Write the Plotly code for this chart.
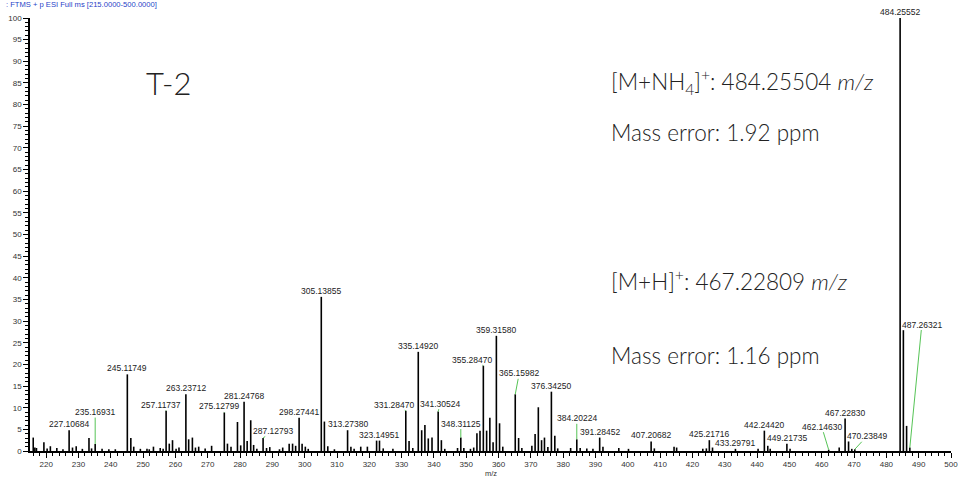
import plotly.graph_objects as go

# ---- spectrum data: centroid peaks (m/z, relative abundance %) ----
peak_mz = [
    216.0, 216.5, 217.0, 219.3, 220.3, 221.3, 223.3, 225.2, 227.10684, 228.15,
    229.3, 231.2, 233.25, 234.05, 235.16931, 237.3, 239.4, 241.4, 245.11749, 246.2,
    247.1, 249.15, 251.2, 251.9, 253.2, 255.3, 256.2, 257.11737, 258.1, 259.1,
    260.2, 261.1, 263.23712, 264.1, 265.25, 266.2, 267.2, 269.2, 271.2, 275.12799,
    276.1, 277.2, 279.2, 280.2, 281.24768, 282.2, 283.3, 284.2, 285.2, 287.12793,
    288.2, 289.2, 292.2, 293.2, 295.2, 296.25, 297.2, 298.27441, 299.2, 300.2,
    301.1, 305.13855, 306.1, 307.15, 309.2, 313.27380, 314.3, 315.3, 317.35, 319.4,
    322.25, 323.14951, 324.3, 327.3, 331.28470, 332.3, 333.45, 335.14920, 336.2, 337.2,
    338.25, 339.4, 341.30524, 342.3, 343.35, 347.3, 348.31125, 349.25, 351.3, 352.3,
    353.3, 354.25, 355.28470, 356.3, 357.3, 358.3, 359.31580, 360.3, 361.3, 365.15982,
    366.2, 367.2, 370.3, 371.3, 372.3, 373.3, 374.2, 375.25, 376.34250, 377.4,
    378.3, 382.3, 384.20224, 385.25, 387.3, 389.2, 391.28452, 392.3, 397.2, 400.2,
    407.20682, 408.2, 414.3, 415.1, 423.2, 424.3, 425.21716, 426.2, 433.29791, 440.3,
    442.24420, 443.3, 444.05, 449.21735, 450.2, 462.14630, 465.4, 467.22830, 468.3, 469.3,
    470.23849, 484.25552, 485.26, 486.26, 487.26321,
]
peak_int = [
    3.1, 0.8, 0.7, 2.0, 0.6, 1.1, 0.7, 0.4, 4.8, 0.8,
    1.1, 0.5, 3.0, 0.6, 1.6, 0.5, 0.4, 0.4, 17.7, 3.0,
    1.0, 0.5, 0.5, 0.4, 1.0, 0.7, 0.5, 9.3, 1.7, 2.5,
    0.5, 0.8, 13.1, 2.7, 3.1, 0.8, 1.0, 0.6, 1.2, 8.9,
    1.7, 1.0, 6.7, 1.3, 11.4, 2.3, 7.1, 1.4, 0.5, 3.0,
    0.7, 0.9, 0.4, 0.8, 1.7, 1.7, 1.2, 7.7, 1.7, 1.0,
    0.5, 35.6, 6.8, 1.1, 0.4, 4.8, 1.0, 0.5, 1.0, 1.0,
    2.4, 2.4, 0.6, 0.5, 9.3, 2.3, 0.7, 22.9, 4.8, 6.0,
    2.9, 3.1, 9.1, 2.5, 0.5, 0.7, 3.1, 0.7, 0.5, 0.8,
    4.1, 4.7, 19.7, 4.7, 7.7, 2.0, 26.6, 6.4, 1.0, 13.1,
    3.0, 0.7, 1.2, 3.9, 10.1, 2.5, 3.1, 0.9, 13.7, 3.5,
    0.6, 0.7, 2.7, 0.7, 0.6, 0.5, 3.1, 1.0, 0.7, 0.5,
    2.2, 0.6, 1.0, 0.8, 0.5, 0.6, 2.5, 0.8, 0.5, 0.5,
    4.7, 1.2, 0.5, 1.7, 0.5, 0.3, 0.8, 7.5, 2.2, 0.5,
    0.4, 100.0, 27.9, 5.8, 0.8,
]

# peaks carrying an m/z label
labeled_mz = [
    227.10684, 235.16931, 245.11749, 257.11737, 263.23712, 275.12799, 281.24768,
    287.12793, 298.27441, 305.13855, 313.27380, 323.14951, 331.28470, 335.14920,
    341.30524, 348.31125, 355.28470, 359.31580, 365.15982, 376.34250, 384.20224,
    391.28452, 407.20682, 425.21716, 433.29791, 442.24420, 449.21735, 462.14630,
    467.22830, 470.23849, 484.25552, 487.26321,
]

x_ticks = list(range(220, 501, 10))
y_ticks = list(range(0, 101, 5))

header = ": FTMS + p ESI Full ms [215.0000-500.0000]"
sample = "T-2"
ion_nh4 = "[M+NH<sub>4</sub>]<sup>+</sup>: 484.25504 <i>m/z</i>"
err_nh4 = "Mass error: 1.92 ppm"
ion_h = "[M+H]<sup>+</sup>: 467.22809 <i>m/z</i>"
err_h = "Mass error: 1.16 ppm"

# ---- label placement: pixel offsets of text centre from the peak apex (green leader) ----
leaders = {
    235.16931: (0, -32),
    257.11737: (-5, -6),
    275.12799: (-5, -6),
    287.12793: (10, -7),
    331.28470: (-12, -6),
    341.30524: (2, -8),
    348.31125: (0, -14),
    355.28470: (-11, -6),
    365.15982: (4, -21),
    384.20224: (0, -21),
    462.14630: (-7, -23),
    470.23849: (12, -13),
    487.26321: (12, -123),
}

LABEL_FONT = dict(family="Liberation Sans, Arial", size=8.5, color="#222222")
GREEN = "#56c456"

# stick spectrum as vertical segments
xs, ys = [], []
for m, v in zip(peak_mz, peak_int):
    xs += [m, m, None]
    ys += [0, v, None]

fig = go.Figure()
fig.add_trace(go.Scatter(
    x=xs, y=ys, mode="lines",
    line=dict(color="black", width=1.6),
    hoverinfo="skip", showlegend=False, cliponaxis=False,
))

intensity_of = dict(zip(peak_mz, peak_int))
annotations = []
for m in labeled_mz:
    v = intensity_of[m]
    txt = f"{m:.5f}"
    if m in leaders:
        dx, dy = leaders[m]
        annotations.append(dict(
            x=m, y=v, text=txt, font=LABEL_FONT,
            showarrow=True, arrowhead=0, arrowwidth=1, arrowcolor=GREEN,
            ax=dx, ay=dy, standoff=0, borderpad=0,
        ))
    else:
        annotations.append(dict(
            x=m, y=v, text=txt, font=LABEL_FONT, showarrow=False,
            yanchor="bottom", xanchor="center", yshift=0, borderpad=0,
        ))

BIG = dict(family="Lato", size=22.5, color="#222222", weight=300)
annotations += [
    dict(x=258.1, y=85.0, text=sample, showarrow=False, xanchor="center", yanchor="middle",
         font=dict(family="Lato", size=31, color="#222222", weight=300)),
    dict(x=394.1, y=85.3, text=ion_nh4, showarrow=False, xanchor="left", yanchor="middle", font=BIG),
    dict(x=394.1, y=73.5, text=err_nh4, showarrow=False, xanchor="left", yanchor="middle", font=BIG),
    dict(x=394.1, y=39.6, text=ion_h, showarrow=False, xanchor="left", yanchor="middle", font=BIG),
    dict(x=394.1, y=22.0, text=err_h, showarrow=False, xanchor="left", yanchor="middle", font=BIG),
    dict(x=-0.0279, y=1.032, xref="paper", yref="paper", text=header, showarrow=False,
         xanchor="left", yanchor="middle",
         font=dict(family="Liberation Sans, Arial", size=7.6, color="#1f3fc8")),
    dict(x=0.5, y=-0.052, xref="paper", yref="paper", text="m/z", showarrow=False,
         xanchor="center", yanchor="middle",
         font=dict(family="Liberation Sans, Arial", size=7.5, color="#333333")),
]

AXIS_FONT = dict(family="Liberation Sans, Arial", size=8, color="#333333")
fig.update_layout(
    width=966, height=477,
    margin=dict(l=26, r=8, t=18, b=25),
    paper_bgcolor="white", plot_bgcolor="white",
    showlegend=False,
    annotations=annotations,
    xaxis=dict(
        range=[215, 500], tickmode="array", tickvals=x_ticks,
        ticks="outside", ticklen=5, tickwidth=1, tickcolor="black",
        showline=True, linecolor="black", linewidth=1.5,
        showgrid=False, zeroline=False, tickfont=AXIS_FONT,
        minor=dict(dtick=2, tick0=220, ticks="outside", ticklen=3, tickcolor="black", showgrid=False),
    ),
    yaxis=dict(
        range=[0, 100], tickmode="array", tickvals=y_ticks,
        ticks="outside", ticklen=5, tickwidth=1, tickcolor="black",
        showline=True, linecolor="black", linewidth=1.5,
        showgrid=False, zeroline=False, tickfont=AXIS_FONT,
        minor=dict(dtick=1, tick0=0, ticks="outside", ticklen=3, tickcolor="black", showgrid=False),
    ),
)

fig.write_html("out.html")
